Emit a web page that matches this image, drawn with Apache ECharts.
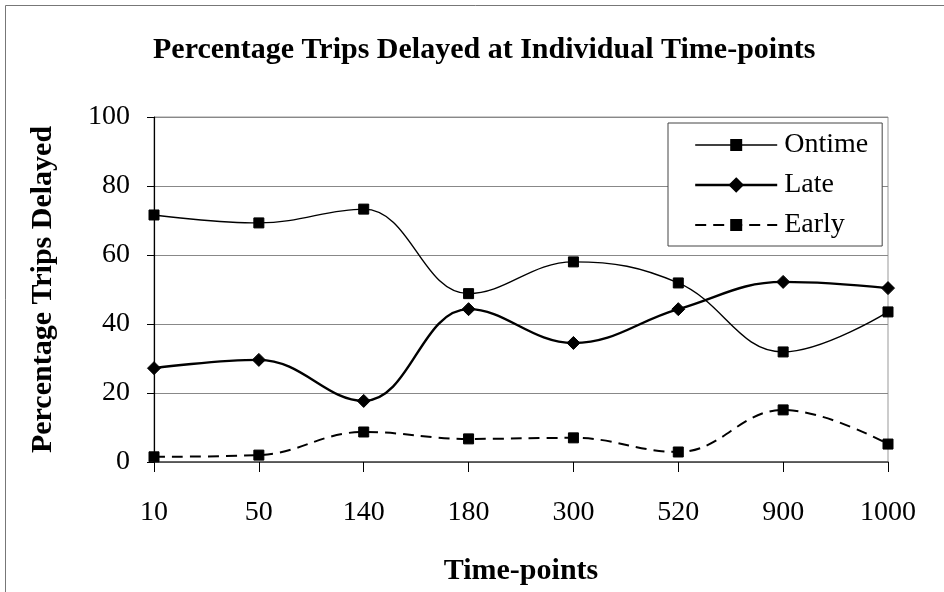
<!DOCTYPE html>
<html>
<head>
<meta charset="utf-8">
<script src="https://cdn.jsdelivr.net/npm/echarts@6/dist/echarts.min.js"></script>
<style>
html,body{margin:0;padding:0;background:#fff;}
#c{width:944px;height:592px;}
</style>
</head>
<body>
<div id="c"></div>
<script>
var categories = ['10', '50', '140', '180', '300', '520', '900', '1000'];
var ontime = [71.6, 69.3, 73.3, 48.8, 58.0, 51.9, 31.9, 43.5];
var late = [27.2, 29.6, 17.7, 44.3, 34.5, 44.3, 52.2, 50.4];
var early = [1.5, 2.0, 8.7, 6.7, 7.0, 2.9, 15.1, 5.2];
var yTicks = [0, 20, 40, 60, 80, 100];

var FONT = 'Liberation Serif';
var chart = echarts.init(document.getElementById('c'), null, {renderer: 'canvas'});
chart.setOption({
  backgroundColor: '#fff',
  animation: false,
  title: {
    text: 'Percentage Trips Delayed at Individual Time-points',
    left: 148, top: 30,
    textStyle: {fontFamily: FONT, fontWeight: 'bold', fontSize: 30, color: '#000'}
  },
  graphic: [{
    type: 'rect', left: 3, top: 3,
    shape: {width: 960, height: 620},
    style: {fill: 'none', stroke: '#777', lineWidth: 1}, silent: true
  }],
  legend: {
    orient: 'vertical',
    left: 668, top: 123,
    padding: [8, 14, 7, 26],
    backgroundColor: '#fff',
    borderColor: '#444', borderWidth: 1,
    itemWidth: 82, itemHeight: 15, itemGap: 12,
    textStyle: {fontFamily: FONT, fontSize: 28, color: '#000', lineHeight: 28, padding: [0, 0, 0, 2]},
    data: [
      {name: 'Ontime', lineStyle: {width: 1.4}},
      {name: 'Late', lineStyle: {width: 2.4}, itemStyle: {borderColor: '#000', borderWidth: 2.5}},
      {name: 'Early', lineStyle: {width: 2}}
    ]
  },
  grid: {left: 154, right: 56, top: 117, bottom: 130, show: true, borderColor: '#999', borderWidth: 1},
  xAxis: {
    type: 'category', data: categories, boundaryGap: false,
    name: 'Time-points', nameLocation: 'middle', nameGap: 94,
    nameTextStyle: {fontFamily: FONT, fontWeight: 'bold', fontSize: 30, color: '#000'},
    axisLine: {lineStyle: {color: '#444', width: 1.5}},
    axisTick: {show: true, length: 10, lineStyle: {color: '#000'}},
    axisLabel: {fontFamily: FONT, fontSize: 28, color: '#000', margin: 37},
    splitLine: {show: false}
  },
  yAxis: {
    type: 'value', min: yTicks[0], max: yTicks[yTicks.length - 1], interval: 20,
    name: 'Percentage Trips Delayed', nameLocation: 'middle', nameGap: 96, nameRotate: 90,
    nameTextStyle: {fontFamily: FONT, fontWeight: 'bold', fontSize: 30, color: '#000'},
    axisLine: {show: true, lineStyle: {color: '#000', width: 1.2}},
    axisTick: {show: true, length: 7, lineStyle: {color: '#000'}},
    axisLabel: {fontFamily: FONT, fontSize: 28, color: '#000', margin: 24},
    splitLine: {show: true, lineStyle: {color: '#888', width: 1}}
  },
  series: [
    {
      name: 'Ontime', type: 'line', data: ontime, smooth: 0.4,
      symbol: 'rect', symbolSize: 10, showAllSymbol: true,
      lineStyle: {color: '#000', width: 1.4},
      itemStyle: {color: '#000', borderColor: '#000'}
    },
    {
      name: 'Late', type: 'line', data: late, smooth: 0.4,
      symbol: 'diamond', symbolSize: 13, showAllSymbol: true,
      lineStyle: {color: '#000', width: 2.4},
      itemStyle: {color: '#000', borderColor: '#000'}
    },
    {
      name: 'Early', type: 'line', data: early, smooth: 0.4,
      symbol: 'rect', symbolSize: 10, showAllSymbol: true,
      lineStyle: {color: '#000', width: 2, type: [11, 7]},
      itemStyle: {color: '#000', borderColor: '#000'}
    }
  ]
});
</script>
</body>
</html>
